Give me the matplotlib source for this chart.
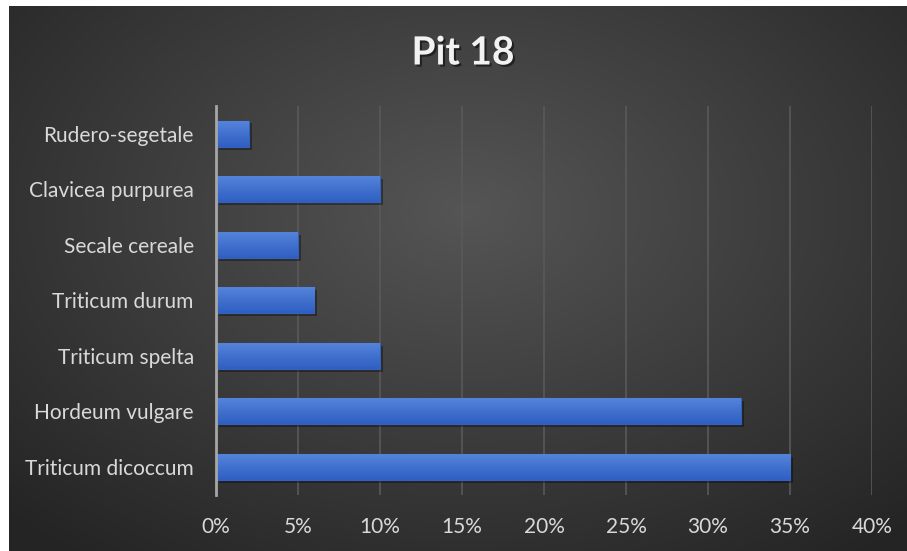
import matplotlib.pyplot as plt
import matplotlib.patheffects as pe
import numpy as np

categories = ['Triticum dicoccum', 'Hordeum vulgare', 'Triticum spelta',
              'Triticum durum', 'Secale cereale', 'Clavicea purpurea',
              'Rudero-segetale']
values = [35, 32, 10, 6, 5, 10, 2]
xticks = [0, 5, 10, 15, 20, 25, 30, 35, 40]
xtick_labels = ['0%', '5%', '10%', '15%', '20%', '25%', '30%', '35%', '40%']
title = 'Pit 18'

plt.rcParams['font.family'] = ['Lato', 'DejaVu Sans']

fig = plt.figure(figsize=(9.07, 5.51), dpi=100, facecolor='white')

# dark radial gradient background, lighter near the middle
bg = fig.add_axes([9 / 907, 0, 898 / 907, 545 / 551])
yy, xx = np.mgrid[-1:1:300j, -1:1:500j]
r = np.sqrt((xx - 0.02) ** 2 + ((yy + 0.25) * 0.9) ** 2)
shade = 0x55 - (0x55 - 0x24) * np.clip(r / 1.45, 0, 1)
img = np.dstack([shade, shade, shade]) / 255.0
bg.imshow(img, aspect='auto', extent=[0, 1, 0, 1], interpolation='bilinear')
bg.axis('off')

ax = fig.add_axes([216 / 907, 1 - 494.7 / 551, 656 / 907, 388.7 / 551])
ax.patch.set_alpha(0)

y = np.arange(len(categories))
bars = ax.barh(y, values, height=0.47, color='#3f6fd1', edgecolor='#3461bd',
               linewidth=0.8, zorder=3)
# vertical blue gradient inside each bar (lighter at top)
top = np.array([0x55, 0x85, 0xdb]) / 255.0
bottom = np.array([0x2f, 0x5f, 0xc2]) / 255.0
t = np.linspace(0, 1, 64)[:, None]
grad = (top * (1 - t) + bottom * t)[:, None, :]
for b in bars:
    b.set_path_effects([pe.SimplePatchShadow(offset=(2, -2), shadow_rgbFace='black',
                                             alpha=0.35),
                        pe.Normal()])
    x0, y0 = b.get_x(), b.get_y()
    im = ax.imshow(grad, aspect='auto', zorder=3.5, interpolation='bilinear',
                   extent=[x0, x0 + b.get_width(), y0, y0 + b.get_height()],
                   origin='upper')
    im.set_clip_path(b)

ax.set_xlim(0, 40)
ax.set_ylim(-0.5, len(categories) - 0.5)
ax.set_xticks(xticks)
ax.set_xticklabels(xtick_labels)
ax.set_yticks(y)
ax.set_yticklabels(categories)
ax.grid(axis='x', color='#595959', linewidth=1.2, zorder=0)
ax.tick_params(length=0, colors='#d9d9d9', labelsize=15)
ax.tick_params(axis='y', pad=16)
ax.tick_params(axis='x', pad=16)
for s in ['top', 'right', 'bottom']:
    ax.spines[s].set_visible(False)
ax.spines['left'].set_color('#a6a6a6')
ax.spines['left'].set_linewidth(2)
ax.spines['left'].set_zorder(4)

fig.text(463 / 907, 1 - 53 / 551, title, ha='center', va='center',
         fontsize=28, fontweight='bold', color='#f2f2f2',
         path_effects=[pe.withSimplePatchShadow(offset=(1.5, -1.5),
                                                shadow_rgbFace='black',
                                                alpha=0.5)])

fig.savefig('out.png', dpi=100, facecolor='white')
